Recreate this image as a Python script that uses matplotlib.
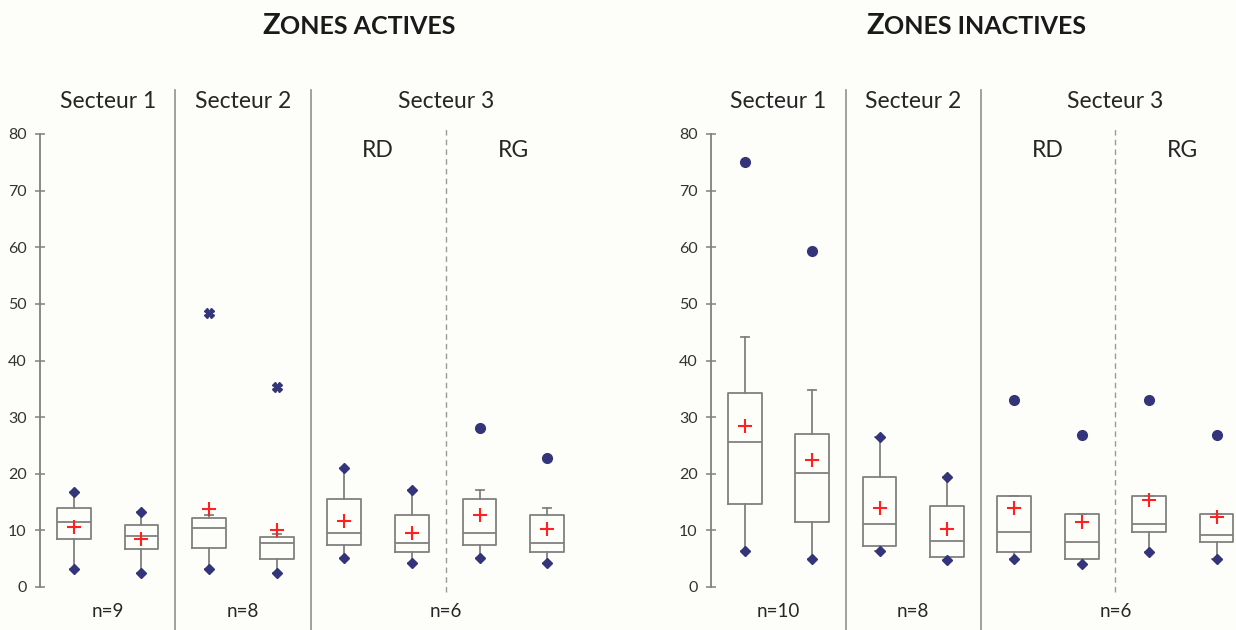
import matplotlib.pyplot as plt

plt.rcParams['font.family'] = ['Lato', 'DejaVu Sans']

# Zones actives (8 boxes: S1 x2, S2 x2, S3 RD x2, S3 RG x2)
act_q1 = [8.5, 6.7, 6.8, 4.9, 7.4, 6.1, 7.4, 6.1]
act_med = [11.4, 9.0, 10.5, 7.7, 9.5, 7.7, 9.5, 7.7]
act_q3 = [13.9, 11.0, 12.1, 8.9, 15.5, 12.7, 15.5, 12.7]
act_lo = [3.2, 2.5, 3.2, 2.4, 5.2, 4.3, 5.2, 4.3]
act_hi = [16.7, 13.2, 12.8, 9.4, 21.1, 17.2, 17.2, 14.0]
act_mean = [10.6, 8.4, 13.8, 10.0, 11.6, 9.5, 12.8, 10.3]
act_out = [[], [], [], [], [], [], [28.0], [22.7]]
act_ext = [[], [], [48.4], [35.3], [], [], [], []]
act_n = ["n=9", "n=8", "n=6"]

# Zones inactives
ina_q1 = [14.6, 11.5, 7.2, 5.3, 6.1, 4.9, 9.8, 8.0]
ina_med = [25.6, 20.2, 11.2, 8.2, 9.8, 8.0, 11.2, 9.2]
ina_q3 = [34.2, 27.1, 19.5, 14.3, 16.0, 12.9, 16.0, 12.9]
ina_lo = [6.4, 5.0, 6.4, 4.7, 5.0, 4.1, 6.1, 5.0]
ina_hi = [44.1, 34.8, 26.5, 19.4, 16.0, 12.9, 16.0, 12.9]
ina_mean = [28.5, 22.5, 13.9, 10.3, 14.0, 11.4, 15.3, 12.4]
ina_out = [[75.1], [59.3], [], [], [33.0], [26.8], [33.0], [26.8]]
ina_ext = [[], [], [], [], [], [], [], []]
ina_n = ["n=10", "n=8", "n=6"]

secteurs = ["Secteur 1", "Secteur 2", "Secteur 3"]
rives = ["RD", "RG"]

BG = "#fdfdf9"
GRAY = "#808080"
NAVY = "#34347a"
TXT = "#262626"

fig = plt.figure(figsize=(12.36, 6.3), dpi=100, facecolor=BG)
W, H = 1236, 630
ax1 = fig.add_axes([40 / W, 1 - 587 / H, 541 / W, 453 / H])
ax2 = fig.add_axes([711 / W, 1 - 587 / H, 525 / W, 453 / H])


def draw_panel(ax, q1, med, q3, lo, hi, mean, out, ext, nlab, xmax):
    pos = list(range(1, len(q1) + 1))
    stats = []
    for i in range(len(q1)):
        stats.append(dict(q1=q1[i], med=med[i], q3=q3[i], whislo=lo[i],
                          whishi=hi[i], mean=mean[i], fliers=out[i]))
    ax.bxp(stats, positions=pos, widths=0.5, capwidths=0.12, showmeans=True,
           boxprops=dict(color=GRAY, lw=1.3),
           whiskerprops=dict(color=GRAY, lw=1.3),
           capprops=dict(color=GRAY, lw=1.3),
           medianprops=dict(color=GRAY, lw=1.3),
           meanprops=dict(marker="+", markersize=10.5, markeredgewidth=1.5,
                          markeredgecolor="#ff2020"),
           flierprops=dict(marker="o", markersize=7, markerfacecolor=NAVY,
                           markeredgecolor=NAVY))
    # min/max markers
    ax.plot(pos, lo, "D", ms=5, color=NAVY, zorder=4)
    for i in range(len(hi)):
        if not out[i] and not ext[i]:
            ax.plot(pos[i], hi[i], "D", ms=5, color=NAVY, zorder=4)
        for v in ext[i]:
            ax.plot(pos[i], v, "X", ms=7, color=NAVY, mec=NAVY, zorder=4)

    ax.set_xlim(0.5, xmax)
    ax.set_ylim(0, 80)
    ax.set_yticks(range(0, 81, 10))
    ax.set_facecolor(BG)
    for s in ["top", "right", "bottom"]:
        ax.spines[s].set_visible(False)
    ax.spines["left"].set_color(GRAY)
    ax.spines["left"].set_linewidth(1.3)
    ax.tick_params(axis="y", direction="inout", length=7, width=1.1,
                   color=GRAY, labelsize=11.5, labelcolor="#333333", pad=6)
    ax.set_xticks([])

    tr = ax.get_xaxis_transform()
    for x in [2.5, 4.5]:
        ax.axvline(x, ymin=-0.095, ymax=1.097, color="#999999", lw=1.3, clip_on=False)
    ax.axvline(6.5, ymin=-0.011, ymax=1.013, color="#999999", lw=1.0,
               ls=(0, (4, 3)), clip_on=False)
    for x, lab in zip([1.5, 3.5, 6.5], secteurs):
        ax.text(x, 1.071, lab, transform=tr, ha="center", va="center",
                fontsize=16.5, color=TXT)
    for x, lab in zip([5.5, 7.5], rives):
        ax.text(x, 0.9625, lab, transform=tr, ha="center", va="center",
                fontsize=16.5, color=TXT)
    for x, lab in zip([1.5, 3.5, 6.5], nlab):
        ax.text(x, -0.055, lab, transform=tr, ha="center", va="center",
                fontsize=13.5, color=TXT)


draw_panel(ax1, act_q1, act_med, act_q3, act_lo, act_hi, act_mean,
           act_out, act_ext, act_n, 8.5)
draw_panel(ax2, ina_q1, ina_med, ina_q3, ina_lo, ina_hi, ina_mean,
           ina_out, ina_ext, ina_n, 0.5 + 525 / 67.4)

# titles in small caps
for x0, rest in [(280, "ONES ACTIVES"), (884, "ONES INACTIVES")]:
    fig.text(x0 / W, 1 - 34 / H, "Z", ha="right", va="baseline",
             fontsize=21, fontweight="bold", color="#1a1a1a")
    fig.text(x0 / W, 1 - 34 / H, rest, ha="left", va="baseline",
             fontsize=18, fontweight="bold", color="#1a1a1a")

fig.savefig("out.png", dpi=100, facecolor=BG)
